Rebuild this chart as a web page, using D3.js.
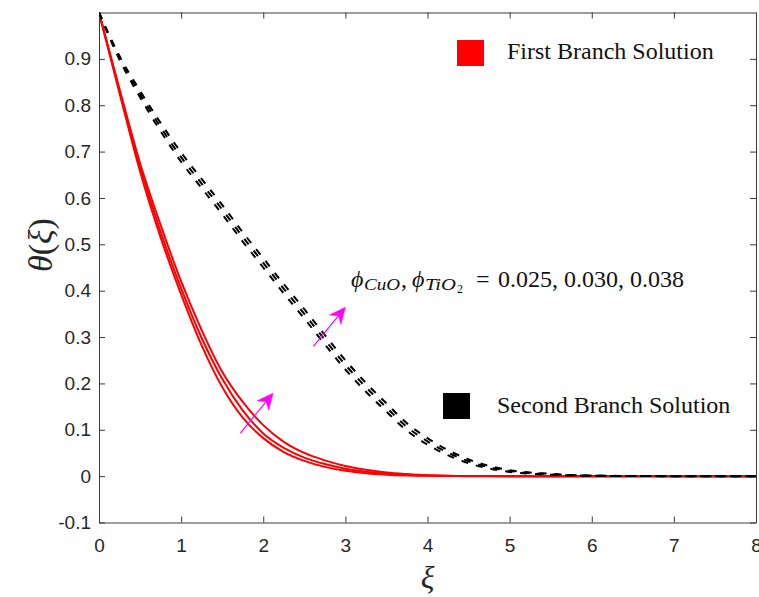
<!DOCTYPE html>
<html>
<head>
<meta charset="utf-8">
<script src="https://cdn.jsdelivr.net/npm/d3@7"></script>
<style>
  html, body { margin: 0; padding: 0; background: #ffffff; }
  svg { display: block; }
</style>
</head>
<body>
<svg id="chart" width="759" height="597"></svg>
<script>
// ---------------- data ----------------
const xi = [0, 0.25, 0.5, 0.75, 1, 1.25, 1.5, 1.75, 2, 2.25, 2.5, 2.75, 3, 3.25, 3.5, 3.75, 4, 4.5, 5, 5.5, 6, 7, 8];

// First branch (red, solid) for phi = 0.025, 0.030, 0.038
const firstBranch025 = [1, 0.826, 0.657, 0.515, 0.392, 0.282, 0.192, 0.126, 0.082, 0.052, 0.033, 0.020, 0.0115, 0.0063, 0.0032, 0.0015, 0.0006, 0, 0, 0, 0, 0, 0];
const firstBranch030 = [1, 0.83, 0.667, 0.527, 0.405, 0.298, 0.21, 0.142, 0.092, 0.061, 0.040, 0.026, 0.016, 0.0095, 0.0053, 0.0027, 0.0012, 0.0002, 0, 0, 0, 0, 0];
const firstBranch038 = [1, 0.835, 0.675, 0.542, 0.42, 0.315, 0.225, 0.160, 0.110, 0.074, 0.050, 0.034, 0.022, 0.014, 0.008, 0.0045, 0.002, 0.0003, 0, 0, 0, 0, 0];

// Second branch (black, dashed)
const secondBranch025 = [1, 0.898, 0.817, 0.744, 0.678, 0.621, 0.565, 0.506, 0.450, 0.394, 0.340, 0.284, 0.230, 0.182, 0.139, 0.098, 0.068, 0.028, 0.009, 0.003, 0.0008, 0, 0];
const secondBranch030 = [1, 0.902, 0.824, 0.753, 0.688, 0.631, 0.575, 0.516, 0.460, 0.404, 0.350, 0.294, 0.240, 0.192, 0.148, 0.106, 0.075, 0.032, 0.011, 0.004, 0.001, 0, 0];
const secondBranch038 = [1, 0.906, 0.831, 0.762, 0.698, 0.641, 0.585, 0.526, 0.470, 0.414, 0.360, 0.304, 0.250, 0.201, 0.157, 0.114, 0.082, 0.036, 0.013, 0.005, 0.0012, 0, 0];

const xTicks = [0, 1, 2, 3, 4, 5, 6, 7, 8];
const yTicks = [-0.1, 0, 0.1, 0.2, 0.3, 0.4, 0.5, 0.6, 0.7, 0.8, 0.9];
const yTickLabels = ["-0.1", "0", "0.1", "0.2", "0.3", "0.4", "0.5", "0.6", "0.7", "0.8", "0.9"];

const legendLabels = ["First Branch Solution", "Second Branch Solution"];
const legendColors = ["#ff0000", "#000000"];
const phiValuesLabel = "0.025, 0.030, 0.038";

// arrows (tail -> head) in data coordinates
const arrowFirst = [[1.72, 0.093], [2.12, 0.179]];
const arrowSecond = [[2.61, 0.280], [3.00, 0.364]];

// ---------------- layout ----------------
const svg = d3.select("#chart");
const pL = 99, pR = 756, pT = 12.5, pB = 522.5;

const x = d3.scaleLinear().domain([0, 8]).range([pL, pR]);
const y = d3.scaleLinear().domain([-0.1, 1]).range([pB, pT]);

const axisColor = "#3a3a3a";
const tickFont = "'Liberation Sans', Arial, Helvetica, sans-serif";
const serif = "'Liberation Serif', 'Times New Roman', Times, serif";

svg.append("defs").append("clipPath").attr("id", "plotclip")
  .append("rect").attr("x", pL).attr("y", pT).attr("width", pR - pL).attr("height", pB - pT);

// axes (MATLAB style: ticks inward, box on)
const tickLen = 6;
const axB = d3.axisBottom(x).tickValues(xTicks).tickSizeInner(-tickLen).tickSizeOuter(0).tickPadding(16).tickFormat(d3.format("d"));
const axT = d3.axisTop(x).tickValues(xTicks).tickSizeInner(-tickLen).tickSizeOuter(0).tickFormat("");
const axL = d3.axisLeft(y).tickValues(yTicks).tickSizeInner(-tickLen).tickSizeOuter(0).tickPadding(8).tickFormat((d, i) => yTickLabels[i]);
const axR = d3.axisRight(y).tickValues(yTicks).tickSizeInner(-tickLen).tickSizeOuter(0).tickFormat("");

function styleAxis(g) {
  g.select(".domain").attr("stroke", axisColor).attr("stroke-width", 1);
  g.selectAll(".tick line").attr("stroke", axisColor).attr("stroke-width", 1);
  g.selectAll(".tick text").attr("fill", "#262626").style("font-family", tickFont).style("font-size", "19px");
}

svg.append("g").attr("transform", `translate(0,${pB})`).call(axB).call(styleAxis);
svg.append("g").attr("transform", `translate(0,${pT})`).call(axT).call(styleAxis);
svg.append("g").attr("transform", `translate(${pL},0)`).call(axL).call(styleAxis);
svg.append("g").attr("transform", `translate(${pR},0)`).call(axR).call(styleAxis);

// ---------------- curves ----------------
const line = d3.line().x((d, i) => x(xi[i])).y(d => y(d)).curve(d3.curveMonotoneX);
const plot = svg.append("g").attr("clip-path", "url(#plotclip)");

[firstBranch025, firstBranch030, firstBranch038].forEach(s => {
  plot.append("path").datum(s).attr("d", line)
    .attr("fill", "none").attr("stroke", "#ff0000").attr("stroke-width", 2);
});
[secondBranch025, secondBranch030, secondBranch038].forEach(s => {
  plot.append("path").datum(s).attr("d", line)
    .attr("fill", "none").attr("stroke", "#000000").attr("stroke-width", 2)
    .attr("stroke-dasharray", "7,8");
});

// ---------------- arrows ----------------
function drawArrow(a) {
  const x0 = x(a[0][0]), y0 = y(a[0][1]), x1 = x(a[1][0]), y1 = y(a[1][1]);
  const ang = Math.atan2(y1 - y0, x1 - x0);
  const L = 16, W = 7.5, notch = 11;
  const ux = Math.cos(ang), uy = Math.sin(ang), px = -uy, py = ux;
  const bx = x1 - ux * L, by = y1 - uy * L;
  const nx = x1 - ux * notch, ny = y1 - uy * notch;
  svg.append("line").attr("x1", x0).attr("y1", y0).attr("x2", nx).attr("y2", ny)
    .attr("stroke", "#ff00ff").attr("stroke-width", 1.2);
  svg.append("path")
    .attr("d", `M${x1},${y1} L${bx + px * W},${by + py * W} L${nx},${ny} L${bx - px * W},${by - py * W} Z`)
    .attr("fill", "#ff00ff").attr("stroke", "#ff00ff").attr("stroke-width", 0.5);
}
drawArrow(arrowFirst);
drawArrow(arrowSecond);

// ---------------- annotation ----------------
const ann = svg.append("g").style("font-family", serif).attr("fill", "#111");
const base = 287;
ann.append("text").attr("x", 351).attr("y", base).style("font-size", "24px").style("font-style", "italic").text("ϕ");
ann.append("text").attr("x", 364).attr("y", base + 3).style("font-size", "17px").style("font-style", "italic")
  .attr("textLength", 36).attr("lengthAdjust", "spacingAndGlyphs").text("CuO");
ann.append("text").attr("x", 401).attr("y", base).style("font-size", "24px").text(",");
ann.append("text").attr("x", 412).attr("y", base).style("font-size", "24px").style("font-style", "italic").text("ϕ");
ann.append("text").attr("x", 425).attr("y", base + 3).style("font-size", "17px").style("font-style", "italic")
  .attr("textLength", 31).attr("lengthAdjust", "spacingAndGlyphs").text("TiO");
ann.append("text").attr("x", 457).attr("y", base + 6).style("font-size", "12px").text("2");
ann.append("text").attr("x", 476).attr("y", base).style("font-size", "24px").text("=");
ann.append("text").attr("x", 498).attr("y", base).style("font-size", "24px").text(phiValuesLabel);

// ---------------- legend-like labels ----------------
const legPos = [{sx: 457, sy: 40, tx: 507, ty: 59}, {sx: 443, sy: 393, tx: 497, ty: 413}];
legendLabels.forEach((lab, i) => {
  const p = legPos[i];
  svg.append("rect").attr("x", p.sx).attr("y", p.sy).attr("width", 27).attr("height", 26).attr("fill", legendColors[i]);
  svg.append("text").attr("x", p.tx).attr("y", p.ty).style("font-family", serif).style("font-size", "24px")
    .attr("fill", "#111").text(lab);
});

// ---------------- axis labels ----------------
svg.append("text").attr("x", x(4)).attr("y", 588).attr("text-anchor", "middle")
  .style("font-family", serif).style("font-size", "32px").style("font-style", "italic").attr("fill", "#262626").text("ξ");

const yl = svg.append("text").attr("transform", "translate(52,245) rotate(-90)").attr("text-anchor", "middle")
  .style("font-family", serif).style("font-size", "34px").attr("fill", "#262626");
yl.append("tspan").style("font-style", "italic").text("θ");
yl.append("tspan").text("(");
yl.append("tspan").style("font-style", "italic").text("ξ");
yl.append("tspan").text(")");
</script>
</body>
</html>
